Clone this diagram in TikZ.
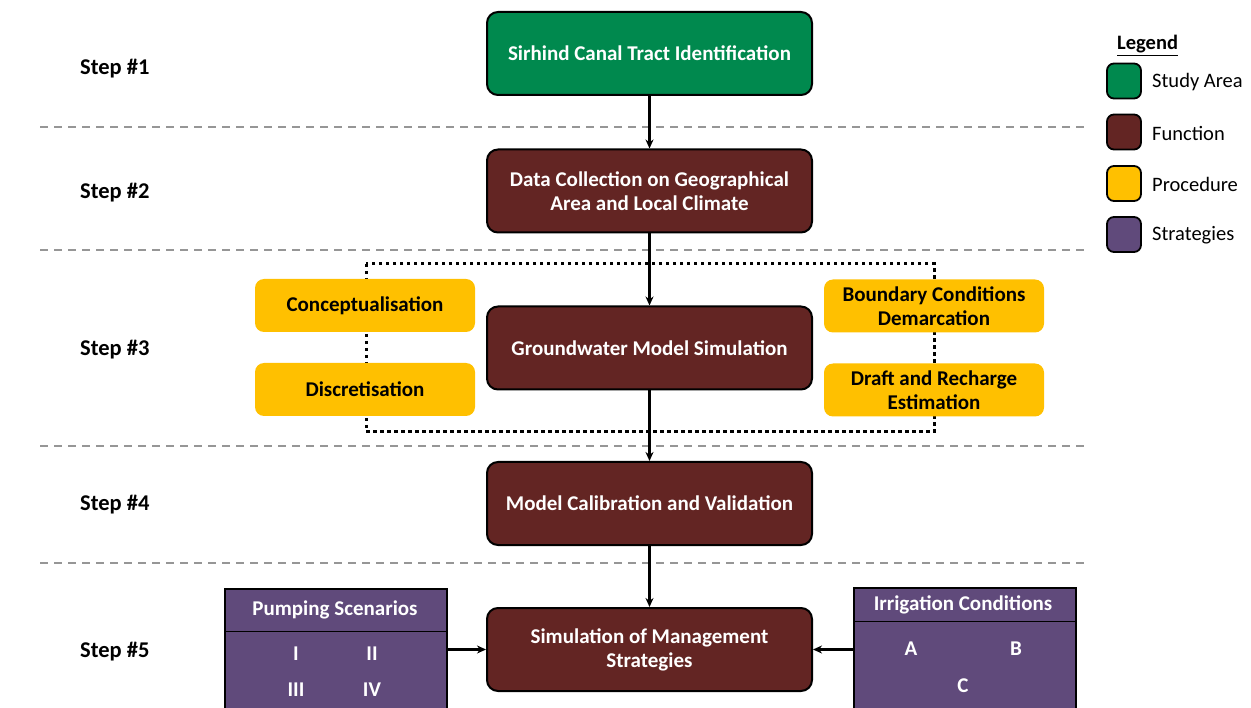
\documentclass[tikz,border=0pt]{standalone}
\usepackage{fontspec}
\setmainfont{Carlito}
\usetikzlibrary{arrows.meta}
\definecolor{cgreen}{RGB}{0,137,78}
\definecolor{cbrown}{RGB}{99,37,35}
\definecolor{cyellow}{RGB}{255,192,0}
\definecolor{cpurple}{RGB}{96,74,123}
\definecolor{cgray}{RGB}{150,150,150}
\tikzset{
  mainbox/.style={draw=black, line width=2pt, rounded corners=11pt, minimum width=325pt, minimum height=83pt, text=white, font=\fontsize{21}{24}\selectfont\bfseries, align=center, inner sep=0pt},
  procbox/.style={fill=cyellow, rounded corners=9pt, minimum width=220pt, minimum height=53pt, text=black, font=\fontsize{21}{24}\selectfont\bfseries, align=center, inner sep=0pt},
  stratbox/.style={draw=black, fill=cpurple, line width=2pt, minimum width=222pt, anchor=north west, inner sep=0pt},
  steplabel/.style={anchor=west, font=\fontsize{22.5}{26}\selectfont\bfseries, inner sep=0pt},
  sep/.style={cgray, line width=1.5pt, dash pattern=on 8pt off 6pt},
  conn/.style={line width=2.2pt, -{Stealth[length=9pt,width=8pt]}},
  dots/.style={line width=3pt, dash pattern=on 3.5pt off 3.5pt},
  wtext/.style={text=white, font=\fontsize{21}{24}\selectfont\bfseries, inner sep=0pt},
  legsq/.style={draw=black, line width=1.8pt, rounded corners=7pt, minimum width=34pt, minimum height=35pt, inner sep=0pt},
  legtext/.style={anchor=west, font=\fontsize{20.5}{24}\selectfont, inner sep=0pt}
}
\begin{document}
\begin{tikzpicture}[x=1pt,y=-1pt]
\useasboundingbox (0,0) rectangle (1251,708);
% separators
\foreach \yy in {127,250,446,563} \draw[sep] (40,\yy) -- (1085,\yy);
% step labels
\node[steplabel] (s1) at (80,68.5) {Step \#1};
\node[steplabel] (s2) at (80,192.5) {Step \#2};
\node[steplabel] (s3) at (80,349.5) {Step \#3};
\node[steplabel] (s4) at (80,504.5) {Step \#4};
\node[steplabel] (s5) at (80,651.5) {Step \#5};
% dotted frame
\draw[dots] (366,264) rectangle (934,432);
% procedures
\node[procbox] (conc) at (365,305.5) {Conceptualisation};
\node[procbox] (disc) at (365,389.5) {Discretisation};
\node[procbox] (bound) at (934,306) {Boundary Conditions\\Demarcation};
\node[procbox] (draft) at (934,390) {Draft and Recharge\\Estimation};
% main boxes
\node[mainbox, fill=cgreen] (b1) at (649.5,53.5) {Sirhind Canal Tract Identification};
\node[mainbox, fill=cbrown] (b2) at (649.5,191) {Data Collection on Geographical\\Area and Local Climate};
\node[mainbox, fill=cbrown] (b3) at (649.5,348) {Groundwater Model Simulation};
\node[mainbox, fill=cbrown] (b4) at (649.5,503.5) {Model Calibration and Validation};
\node[mainbox, fill=cbrown] (b5) at (649.5,649.5) {Simulation of Management\\Strategies};
% strategy boxes
\node[stratbox, minimum height=127pt] (pump) at (224,588) {};
\draw[black, line width=1pt] (224,631) -- (446,631);
\node[wtext] (pumpt) at (335,609.5) {Pumping Scenarios};
\node[wtext] (p1) at (296,654) {I};
\node[wtext] (p2) at (372,654) {II};
\node[wtext] (p3) at (296,690) {III};
\node[wtext] (p4) at (372,690) {IV};
\node[stratbox, minimum height=128pt] (irr) at (853,587) {};
\draw[black, line width=1pt] (853,621) -- (1075,621);
\node[wtext] (irrt) at (963,604.5) {Irrigation Conditions};
\node[wtext] (ia) at (911,649) {A};
\node[wtext] (ib) at (1016,649) {B};
\node[wtext] (ic) at (963,686) {C};
% connectors
\draw[conn] (b1) -- (b2);
\draw[conn] (b2) -- (b3);
\draw[conn] (b3) -- (b4);
\draw[conn] (b4) -- (b5);
\draw[conn] (pump.east |- b5) -- (b5.west);
\draw[conn] (irr.west |- b5) -- (b5.east);
% legend
\node[anchor=west, font=\fontsize{20.5}{24}\selectfont\bfseries, inner sep=0pt] (legt) at (1117,45.5) {\underline{Legend}};
\node[legsq, fill=cgreen] (l1) at (1124,81) {};
\node[legsq, fill=cbrown] (l2) at (1124,132) {};
\node[legsq, fill=cyellow] (l3) at (1124,183.5) {};
\node[legsq, fill=cpurple] (l4) at (1124,234.5) {};
\node[legtext] (lt1) at (1152,82.5) {Study Area};
\node[legtext] (lt2) at (1152,133) {Function};
\node[legtext] (lt3) at (1152,184.5) {Procedure};
\node[legtext] (lt4) at (1152,235.5) {Strategies};
\end{tikzpicture}
\end{document}
